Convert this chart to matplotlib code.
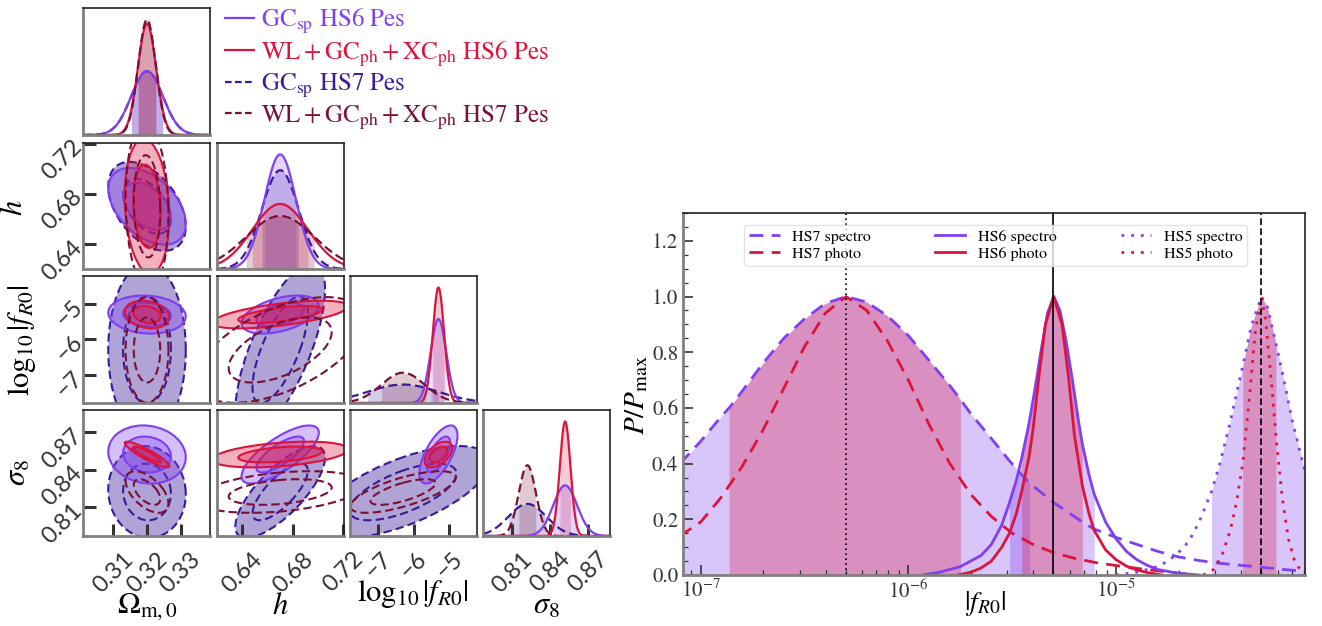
import numpy as np
import matplotlib
matplotlib.use('Agg')
import matplotlib.pyplot as plt
from matplotlib.patches import Ellipse
from matplotlib.lines import Line2D
from matplotlib.ticker import FixedLocator, MultipleLocator, LogLocator, NullFormatter

plt.rcParams['mathtext.fontset'] = 'stix'
plt.rcParams['font.family'] = ['STIXGeneral', 'DejaVu Serif']

W, H = 1322, 626
fig = plt.figure(figsize=(W / 100, H / 100), dpi=100)

# ------------------------------------------------------------------ corner data
param_labels = [r'$\Omega_{\rm m,0}$', r'$h$', r'$\log_{10}|f_{R0}|$', r'$\sigma_8$']
param_lo = [0.3010, 0.6200, -7.80, 0.7868]
param_hi = [0.3387, 0.7205, -4.21, 0.8876]
param_ticks = [[0.31, 0.32, 0.33], [0.64, 0.68, 0.72], [-7, -6, -5], [0.81, 0.84, 0.87]]
param_ticklabels = [['0.31', '0.32', '0.33'], ['0.64', '0.68', '0.72'],
                    ['\u22127', '\u22126', '\u22125'], ['0.81', '0.84', '0.87']]

series_labels = [r'$\mathrm{GC_{sp}}$ HS6 Pes',
                 r'$\mathrm{WL+GC_{ph}+XC_{ph}}$ HS6 Pes',
                 r'$\mathrm{GC_{sp}}$ HS7 Pes',
                 r'$\mathrm{WL+GC_{ph}+XC_{ph}}$ HS7 Pes']

mean_hs6 = [0.320, 0.670, -5.30, 0.852]
mean_hs7 = [0.320, 0.670, -6.30, 0.822]

# 1-sigma errors (Om, h, log10 fR0, sigma8)
sigma_gcsp_hs6 = [0.0047, 0.0125, 0.22, 0.0095]
sigma_photo_hs6 = [0.0027, 0.0220, 0.16, 0.0042]
sigma_gcsp_hs7 = [0.0047, 0.0145, 1.00, 0.0150]
sigma_photo_hs7 = [0.0026, 0.0270, 0.61, 0.0068]

# correlations in pair order (Om,h) (Om,f) (Om,s8) (h,f) (h,s8) (f,s8)
corr_gcsp_hs6 = [-0.45, -0.10, -0.10, 0.45, 0.75, 0.65]
corr_photo_hs6 = [-0.15, -0.20, -0.90, 0.60, 0.40, 0.50]
corr_gcsp_hs7 = [-0.45, 0.00, -0.05, 0.70, 0.75, 0.65]
corr_photo_hs7 = [-0.10, 0.00, -0.55, 0.55, 0.35, 0.70]

pair_order = [(0, 1), (0, 2), (0, 3), (1, 2), (1, 3), (2, 3)]

series = [
    dict(mean=mean_hs6, sig=sigma_gcsp_hs6, corr=corr_gcsp_hs6, color='#7F3FF0', ls='-', fill='both'),
    dict(mean=mean_hs6, sig=sigma_photo_hs6, corr=corr_photo_hs6, color='#DC143C', ls='-', fill='both'),
    dict(mean=mean_hs7, sig=sigma_gcsp_hs7, corr=corr_gcsp_hs7, color='#3A1A9A', ls='--', fill='outer'),
    dict(mean=mean_hs7, sig=sigma_photo_hs7, corr=corr_photo_hs7, color='#7A1033', ls='--', fill='none'),
]
draw_order = [2, 0, 1, 3]

R68 = np.sqrt(-2 * np.log(1 - 0.68))
R95 = np.sqrt(-2 * np.log(1 - 0.95))

col_x = [(83, 210), (217, 344), (350, 477), (483, 610)]
row_y = [(8, 135), (143, 269), (276, 403), (410, 536)]


def rect(x0, y0, x1, y1):
    return [x0 / W, 1 - y1 / H, (x1 - x0) / W, (y1 - y0) / H]


def style_axes(ax):
    for s in ['left', 'bottom']:
        ax.spines[s].set_color('#808080')
        ax.spines[s].set_linewidth(2.0)
    for s in ['top', 'right']:
        ax.spines[s].set_color('#222222')
        ax.spines[s].set_linewidth(1.2)
    ax.tick_params(direction='in', length=9, width=2.2, color='#333333',
                   labelcolor='#333333')
    ax.tick_params(axis='x', pad=9)
    ax.tick_params(axis='y', pad=3)


tick_font = dict(family=['Lato', 'DejaVu Sans'], size=17, color='#333333')

for row in range(4):
    for col in range(row + 1):
        ax = fig.add_axes(rect(col_x[col][0], row_y[row][0], col_x[col][1], row_y[row][1]))
        style_axes(ax)
        ax.set_xlim(param_lo[col], param_hi[col])
        if row == col:
            xs = np.linspace(param_lo[col], param_hi[col], 600)
            peak = 0
            for k in draw_order:
                s = series[k]
                mu, sg = s['mean'][col], s['sig'][col]
                pdf = np.exp(-0.5 * ((xs - mu) / sg) ** 2) / (sg * np.sqrt(2 * np.pi))
                peak = max(peak, pdf.max())
                ax.fill_between(xs, 0, pdf, where=np.abs(xs - mu) <= sg,
                                color=s['color'], alpha=0.22, lw=0)
                ln, = ax.plot(xs, pdf, color=s['color'], lw=1.6)
                if s['ls'] == '--':
                    ln.set_linestyle((0, (4, 2)))
            ax.set_ylim(0, 1.1 * peak)
            ax.set_yticks([])
        else:
            ax.set_ylim(param_lo[row], param_hi[row])
            pidx = pair_order.index((col, row))
            for k in draw_order:
                s = series[k]
                sx, sy = s['sig'][col], s['sig'][row]
                rho = s['corr'][pidx]
                cov = np.array([[sx * sx, rho * sx * sy], [rho * sx * sy, sy * sy]])
                vals, vecs = np.linalg.eigh(cov)
                ang = np.degrees(np.arctan2(vecs[1, 1], vecs[0, 1]))
                for r, level in [(R95, 'outer'), (R68, 'inner')]:
                    w = 2 * r * np.sqrt(vals[1])
                    hgt = 2 * r * np.sqrt(vals[0])
                    c = (s['mean'][col], s['mean'][row])
                    do_fill = s['fill'] == 'both' or (s['fill'] == 'outer' and level == 'outer')
                    alpha = 0.4 if s['fill'] == 'outer' else 0.33
                    if do_fill:
                        ax.add_patch(Ellipse(c, w, hgt, angle=ang, facecolor=s['color'],
                                             alpha=alpha, lw=0))
                    e = Ellipse(c, w, hgt, angle=ang, facecolor='none', edgecolor=s['color'],
                                lw=1.5)
                    if s['ls'] == '--':
                        e.set_linestyle((0, (4, 2)))
                    ax.add_patch(e)
        if row == 3:
            ax.xaxis.set_major_locator(FixedLocator(param_ticks[col]))
            ax.set_xticklabels(param_ticklabels[col], rotation=45, ha='center', va='top',
                               **tick_font)
        else:
            ax.set_xticks([])
        if col == 0 and row > 0:
            ax.yaxis.set_major_locator(FixedLocator(param_ticks[row]))
            ax.set_yticklabels(param_ticklabels[row], rotation=45, ha='right', va='center',
                               rotation_mode='anchor', **tick_font)
        elif row != col:
            ax.set_yticks([])

# axis labels of the corner plot
fig.text(15 / W, 1 - 208 / H, param_labels[1], fontsize=22, rotation=90, ha='center', va='center')
fig.text(22 / W, 1 - 340 / H, param_labels[2], fontsize=22, rotation=90, ha='center', va='center')
fig.text(19 / W, 1 - 473 / H, param_labels[3], fontsize=22, rotation=90, ha='center', va='center')
fig.text(147 / W, 1 - 607 / H, param_labels[0], fontsize=22, ha='center', va='center')
fig.text(280 / W, 1 - 607 / H, param_labels[1], fontsize=22, ha='center', va='center')
fig.text(413 / W, 1 - 594 / H, param_labels[2], fontsize=22, ha='center', va='center')
fig.text(546 / W, 1 - 607 / H, param_labels[3], fontsize=22, ha='center', va='center')

handles = []
for s in series:
    h_ = Line2D([], [], color=s['color'], lw=1.6)
    if s['ls'] == '--':
        h_.set_linestyle((0, (3, 1.5)))
    handles.append(h_)
fig.legend(handles, series_labels, loc='upper left', bbox_to_anchor=(215 / W, 1 + 3 / H),
           frameon=False, fontsize=18, handlelength=1.15, handletextpad=0.3,
           labelspacing=0.12, labelcolor='linecolor', borderaxespad=0)

# ------------------------------------------------------------------ right panel data
hs7_spectro_logf = [-7.10, -7.00, -6.90, -6.863, -6.80, -6.70, -6.60, -6.50, -6.40, -6.30,
                    -6.20, -6.10, -6.00, -5.90, -5.80, -5.749, -5.70, -5.60, -5.513, -5.454,
                    -5.416, -5.30, -5.20, -5.162, -5.105, -5.00, -4.90, -4.80, -4.70, -4.60,
                    -4.50, -4.40, -4.30, -4.20, -4.08]
hs7_spectro_p = [0.40, 0.48, 0.57, 0.60, 0.66, 0.76, 0.85, 0.92, 0.975, 1.00,
                 0.98, 0.93, 0.86, 0.77, 0.68, 0.63, 0.58, 0.49, 0.41, 0.36,
                 0.33, 0.26, 0.21, 0.19, 0.165, 0.135, 0.11, 0.085, 0.065, 0.052,
                 0.042, 0.035, 0.028, 0.020, 0.013]
hs7_photo_logf = [-7.10, -7.00, -6.90, -6.80, -6.70, -6.60, -6.50, -6.40, -6.30, -6.20,
                  -6.10, -6.00, -5.90, -5.80, -5.70, -5.60, -5.50, -5.40, -5.30, -5.20,
                  -5.10, -5.00, -4.90, -4.80, -4.70, -4.62]
hs7_photo_p = [0.14, 0.19, 0.28, 0.39, 0.52, 0.67, 0.82, 0.94, 1.00, 0.95,
               0.84, 0.70, 0.54, 0.40, 0.29, 0.21, 0.15, 0.11, 0.08, 0.06,
               0.045, 0.034, 0.024, 0.015, 0.007, 0.0]
hs6_spectro_logf = [-5.93, -5.85, -5.75, -5.65, -5.60, -5.55, -5.513, -5.48, -5.454, -5.42,
                    -5.39, -5.36, -5.33, -5.30, -5.27, -5.24, -5.21, -5.18, -5.162, -5.13,
                    -5.105, -5.05, -5.00, -4.95, -4.90, -4.85, -4.80, -4.70, -4.60]
hs6_spectro_p = [0.0, 0.01, 0.03, 0.07, 0.11, 0.18, 0.26, 0.34, 0.42, 0.54,
                 0.67, 0.81, 0.94, 1.00, 0.95, 0.84, 0.70, 0.55, 0.47, 0.36,
                 0.29, 0.19, 0.13, 0.085, 0.055, 0.035, 0.02, 0.006, 0.0]
hs6_photo_logf = [-5.76, -5.70, -5.65, -5.60, -5.55, -5.513, -5.48, -5.454, -5.42, -5.40,
                  -5.37, -5.34, -5.30, -5.26, -5.23, -5.20, -5.162, -5.13, -5.105, -5.05,
                  -5.00, -4.95, -4.90, -4.85, -4.78]
hs6_photo_p = [0.0, 0.01, 0.025, 0.05, 0.10, 0.15, 0.22, 0.30, 0.42, 0.52,
               0.72, 0.90, 1.00, 0.90, 0.72, 0.50, 0.32, 0.22, 0.16, 0.09,
               0.055, 0.032, 0.018, 0.009, 0.0]
hs5_spectro_logf = [-5.00, -4.90, -4.80, -4.75, -4.70, -4.65, -4.60, -4.54, -4.50, -4.45,
                    -4.39, -4.35, -4.30, -4.27, -4.23, -4.20, -4.15, -4.10, -4.08]
hs5_spectro_p = [0.0, 0.01, 0.03, 0.05, 0.08, 0.12, 0.19, 0.30, 0.40, 0.55,
                 0.75, 0.89, 1.00, 0.96, 0.83, 0.73, 0.55, 0.40, 0.35]
hs5_photo_logf = [-4.58, -4.53, -4.49, -4.45, -4.42, -4.39, -4.36, -4.33, -4.30, -4.28,
                  -4.25, -4.23, -4.20, -4.17, -4.14, -4.11, -4.09]
hs5_photo_p = [0.0, 0.02, 0.07, 0.16, 0.26, 0.40, 0.62, 0.87, 1.00, 0.92,
               0.68, 0.50, 0.28, 0.13, 0.05, 0.015, 0.0]

# credible-interval bounds (log10 |fR0|)
hs7_spectro_band = (-7.10, -5.416)
hs7_photo_band = (-6.863, -5.749)
hs6_spectro_band = (-5.513, -5.105)
hs6_photo_band = (-5.454, -5.162)
hs5_spectro_band = (-4.54, -4.08)
hs5_photo_band = (-4.39, -4.23)

fiducials = [5e-7, 5e-6, 5e-5]
legend_labels = ['HS7 spectro', 'HS7 photo', 'HS6 spectro', 'HS6 photo', 'HS5 spectro', 'HS5 photo']

purple = '#8040F0'
red = '#DC143C'

ax2 = fig.add_axes(rect(683, 213, 1305, 575))
for s in ['left', 'bottom']:
    ax2.spines[s].set_color('#808080')
    ax2.spines[s].set_linewidth(2.0)
for s in ['top', 'right']:
    ax2.spines[s].set_color('#222222')
    ax2.spines[s].set_linewidth(1.2)

curves = [
    (hs7_spectro_logf, hs7_spectro_p, hs7_spectro_band, hs7_photo_band),
    (hs6_spectro_logf, hs6_spectro_p, hs6_spectro_band, hs6_photo_band),
    (hs5_spectro_logf, hs5_spectro_p, hs5_spectro_band, hs5_photo_band),
]
for lx, p, sb, pb in curves:
    lx = np.array(lx)
    p = np.array(p)
    ax2.fill_between(10 ** lx, 0, p, where=(lx >= sb[0] - 1e-9) & (lx <= sb[1] + 1e-9),
                     color=purple, alpha=0.3, lw=0)
    ax2.fill_between(10 ** lx, 0, p, where=(lx >= pb[0] - 1e-9) & (lx <= pb[1] + 1e-9),
                     color=red, alpha=0.3, lw=0)

line_specs = [
    (hs7_spectro_logf, hs7_spectro_p, purple, (0, (5, 3))),
    (hs7_photo_logf, hs7_photo_p, red, (0, (5, 3))),
    (hs6_spectro_logf, hs6_spectro_p, purple, '-'),
    (hs6_photo_logf, hs6_photo_p, red, '-'),
    (hs5_spectro_logf, hs5_spectro_p, purple, (0, (1, 2.5))),
    (hs5_photo_logf, hs5_photo_p, red, (0, (1, 2.5))),
]
line_handles = []
for (lx, p, c, ls), lab in zip(line_specs, legend_labels):
    ln, = ax2.plot(10 ** np.array(lx), p, color=c, ls=ls, lw=2.0, label=lab)
    line_handles.append(ln)

ax2.axvline(fiducials[0], color='k', ls=(0, (1, 2)), lw=1.2)
ax2.axvline(fiducials[1], color='k', ls='-', lw=1.2)
ax2.axvline(fiducials[2], color='k', ls=(0, (4, 2)), lw=1.2)

ax2.set_xscale('log')
ax2.set_xlim(10 ** -7.085, 10 ** -4.09)
ax2.set_ylim(0, 1.3)
ax2.yaxis.set_major_locator(MultipleLocator(0.2))
ax2.yaxis.set_minor_locator(MultipleLocator(0.05))
ax2.xaxis.set_major_locator(LogLocator(base=10, numticks=10))
ax2.xaxis.set_minor_locator(LogLocator(base=10, subs=np.arange(2, 10), numticks=20))
ax2.xaxis.set_minor_formatter(NullFormatter())
ax2.tick_params(which='both', direction='in', color='#333333', labelcolor='#333333', labelsize=15)
ax2.tick_params(which='major', length=7, width=1.2)
ax2.tick_params(which='minor', length=3.5, width=0.9)
fig.text(985 / W, 1 - 604 / H, r'$|f_{R0}|$', fontsize=20, ha='center', va='center')
fig.text(637 / W, 1 - 395 / H, r'$P/P_{\rm max}$', fontsize=21, rotation=90,
         ha='center', va='center')

ax2.legend(line_handles, legend_labels, loc='upper center', bbox_to_anchor=(0.503, 0.99), ncol=3,
           fontsize=11.5, columnspacing=4.0, handlelength=1.9, handletextpad=0.8,
           labelspacing=0.2, frameon=True, fancybox=True, framealpha=0.8, edgecolor='#dddddd',
           borderpad=0.3)

fig.savefig('out.png', dpi=100)
